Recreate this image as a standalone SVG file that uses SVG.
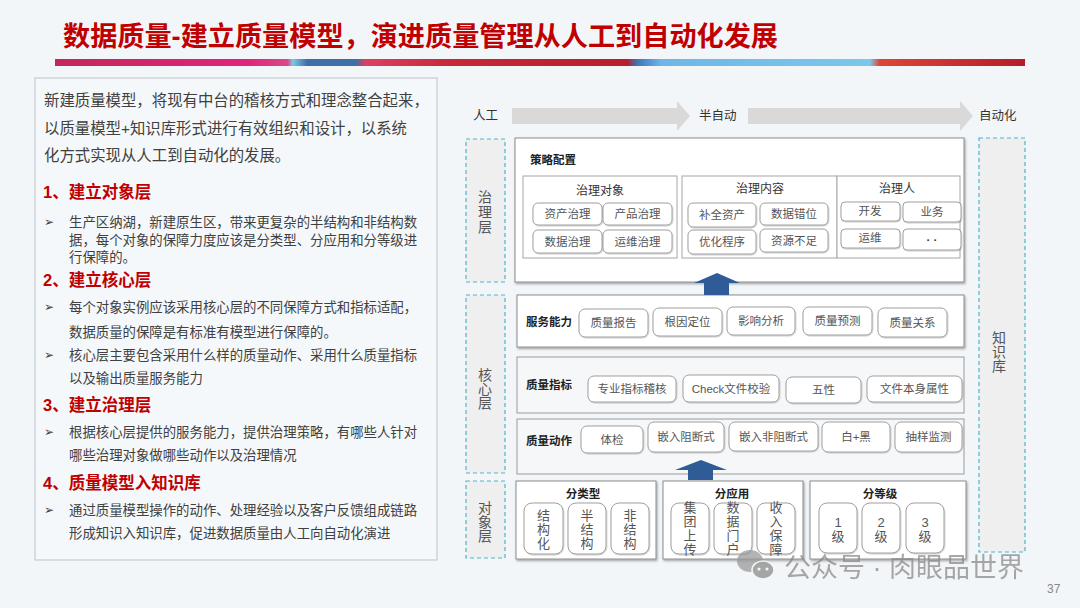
<svg xmlns="http://www.w3.org/2000/svg" width="1080" height="608" viewBox="0 0 1080 608">
<defs>
<linearGradient id="band" x1="0" y1="0" x2="1" y2="0">
<stop offset="0" stop-color="#c2285a"/><stop offset="0.2" stop-color="#e0247c"/><stop offset="0.24" stop-color="#d94a86"/>
<stop offset="0.245" stop-color="#80c6e6"/><stop offset="0.26" stop-color="#3f6fa6"/><stop offset="0.31" stop-color="#3f6fa6"/>
<stop offset="0.32" stop-color="#dc3f62"/><stop offset="0.41" stop-color="#c62838"/><stop offset="0.59" stop-color="#b81e2c"/>
<stop offset="0.6" stop-color="#3f73b8"/><stop offset="0.625" stop-color="#6fb6e6"/><stop offset="0.84" stop-color="#7ac8ec"/>
<stop offset="0.85" stop-color="#dc4638"/><stop offset="1" stop-color="#b51c28"/>
</linearGradient>
<filter id="sh" x="-5%" y="-10%" width="110%" height="130%"><feDropShadow dx="1" dy="1.5" stdDeviation="1" flood-color="#000" flood-opacity="0.35"/></filter>
<filter id="ps" x="-10%" y="-10%" width="125%" height="130%"><feDropShadow dx="0.6" dy="0.8" stdDeviation="0.6" flood-color="#000" flood-opacity="0.25"/></filter>
</defs>
<style>
text{font-family:"Liberation Sans","Noto Sans CJK SC",sans-serif;}
.body{font-size:15.4px;fill:#404040;dominant-baseline:central;}
.bl{font-size:13.4px;fill:#404040;dominant-baseline:central;}
.hd{font-size:16.5px;fill:#c00000;font-weight:bold;dominant-baseline:central;}
.mk{font-family:"DejaVu Sans",sans-serif;font-size:12px;fill:#404040;dominant-baseline:central;}
.side{fill:#efefef;stroke:#4fb4cc;stroke-width:1.2;stroke-dasharray:4 3;}
.sl{font-size:14px;fill:#555;text-anchor:middle;dominant-baseline:central;}
.box{fill:#fff;stroke:#8c8c8c;stroke-width:1;filter:url(#sh);}
.gbox{fill:#f5f7f9;stroke:#9a9a9a;stroke-width:1;}
.sec{fill:#fff;stroke:#a6a6a6;stroke-width:1;}
.pill{fill:#fff;stroke:#a0a0a0;stroke-width:1;filter:url(#ps);}
.pt{font-size:11.5px;fill:#555;text-anchor:middle;dominant-baseline:central;}
.bt{font-size:11.5px;fill:#222;font-weight:bold;dominant-baseline:central;}
.st{font-size:12px;fill:#333;text-anchor:middle;dominant-baseline:central;}
.vt{font-size:13px;fill:#555;text-anchor:middle;dominant-baseline:central;}
.arr{fill:#d9d9d9;}
.up{fill:#2f5c97;}
.lab{font-size:12.5px;fill:#333;dominant-baseline:central;}
</style>
<rect width="1080" height="608" fill="#f3f6f9"/>
<g id="title">
<text x="63" y="46" textLength="715" lengthAdjust="spacingAndGlyphs" style="font-size:27px;font-weight:bold;fill:#c00000;">数据质量-建立质量模型，演进质量管理从人工到自动化发展</text>
<rect x="55" y="59" width="970" height="7" fill="url(#band)"/>
</g>
<g id="left-panel">
<rect x="35" y="78" width="402" height="482" fill="#f5f8fa" stroke="#c6cbd0" stroke-width="1.2"/>
<text class="body" x="44" y="100">新建质量模型，将现有中台的稽核方式和理念整合起来，</text>
<text class="body" x="44" y="128">以质量模型+知识库形式进行有效组织和设计，以系统</text>
<text class="body" x="44" y="155">化方式实现从人工到自动化的发展。</text>
<text class="hd" x="43" y="192">1、建立对象层</text>
<text class="mk" x="44" y="222">➢</text>
<text class="bl" x="69" y="222">生产区纳湖，新建原生区，带来更复杂的半结构和非结构数</text>
<text class="bl" x="69" y="240">据，每个对象的保障力度应该是分类型、分应用和分等级进</text>
<text class="bl" x="69" y="257">行保障的。</text>
<text class="hd" x="43" y="280">2、建立核心层</text>
<text class="mk" x="44" y="307">➢</text>
<text class="bl" x="69" y="307">每个对象实例应该采用核心层的不同保障方式和指标适配，</text>
<text class="bl" x="69" y="332">数据质量的保障是有标准有模型进行保障的。</text>
<text class="mk" x="44" y="355">➢</text>
<text class="bl" x="69" y="355">核心层主要包含采用什么样的质量动作、采用什么质量指标</text>
<text class="bl" x="69" y="378">以及输出质量服务能力</text>
<text class="hd" x="43" y="405">3、建立治理层</text>
<text class="mk" x="44" y="432">➢</text>
<text class="bl" x="69" y="432">根据核心层提供的服务能力，提供治理策略，有哪些人针对</text>
<text class="bl" x="69" y="455">哪些治理对象做哪些动作以及治理情况</text>
<text class="hd" x="43" y="483">4、质量模型入知识库</text>
<text class="mk" x="44" y="510">➢</text>
<text class="bl" x="69" y="510">通过质量模型操作的动作、处理经验以及客户反馈组成链路</text>
<text class="bl" x="69" y="533">形成知识入知识库，促进数据质量由人工向自动化演进</text>
</g>
<g id="progression">
<text class="lab" x="473" y="116">人工</text>
<polygon class="arr" points="512,108 677,108 677,101 690,116 677,131 677,124 512,124"/>
<text class="lab" x="699" y="116">半自动</text>
<polygon class="arr" points="748,108 960,108 960,101 973,116 960,131 960,124 748,124"/>
<text class="lab" x="979" y="116">自动化</text>
</g>
<g id="layer-governance"><rect class="side" x="466" y="139" width="39" height="143"/>
<text class="sl"><tspan x="485" y="197">治</tspan><tspan x="485" y="212">理</tspan><tspan x="485" y="227">层</tspan></text></g>
<g id="layer-core"><rect class="side" x="466" y="295" width="39" height="178"/>
<text class="sl"><tspan x="485" y="375">核</tspan><tspan x="485" y="389">心</tspan><tspan x="485" y="403">层</tspan></text></g>
<g id="layer-object"><rect class="side" x="466" y="481" width="39" height="77"/>
<text class="sl"><tspan x="485" y="508">对</tspan><tspan x="485" y="522">象</tspan><tspan x="485" y="536">层</tspan></text></g>
<g id="knowledge-base"><rect class="side" x="979" y="138" width="46" height="414"/>
<text class="sl"><tspan x="999" y="338">知</tspan><tspan x="999" y="352">识</tspan><tspan x="999" y="366">库</tspan></text></g>
<g id="strategy">
<rect class="box" x="515" y="138" width="449" height="144"/>
<text class="bt" x="530" y="160">策略配置</text>
<rect class="sec" x="523" y="176" width="154" height="82"/>
<rect class="sec" x="682" y="176" width="155" height="82"/>
<rect class="sec" x="837" y="176" width="123" height="82"/>
<text class="st" x="600" y="191">治理对象</text>
<text class="st" x="760" y="189">治理内容</text>
<text class="st" x="897" y="189">治理人</text>
<rect class="pill" x="533" y="203" width="69" height="22" rx="5"/><text class="pt" x="567.5" y="214">资产治理</text>
<rect class="pill" x="603" y="203" width="69" height="22" rx="5"/><text class="pt" x="637.5" y="214">产品治理</text>
<rect class="pill" x="533" y="230" width="69" height="23" rx="5"/><text class="pt" x="567.5" y="241.5">数据治理</text>
<rect class="pill" x="603" y="230" width="69" height="23" rx="5"/><text class="pt" x="637.5" y="241.5">运维治理</text>
<rect class="pill" x="688" y="203" width="68" height="24" rx="5"/><text class="pt" x="722" y="215">补全资产</text>
<rect class="pill" x="760" y="203" width="68" height="22" rx="5"/><text class="pt" x="794" y="214">数据错位</text>
<rect class="pill" x="688" y="230" width="68" height="24" rx="5"/><text class="pt" x="722" y="242">优化程序</text>
<rect class="pill" x="760" y="229" width="68" height="23" rx="5"/><text class="pt" x="794" y="240.5">资源不足</text>
<rect class="pill" x="841" y="202" width="59" height="19" rx="4"/><text class="pt" x="870" y="211">开发</text>
<rect class="pill" x="903" y="202" width="58" height="20" rx="4"/><text class="pt" x="932" y="212">业务</text>
<rect class="pill" x="841" y="229" width="59" height="19" rx="4"/><text class="pt" x="870" y="238">运维</text>
<rect class="pill" x="903" y="229" width="58" height="21" rx="4"/><text class="pt" x="932" y="240" style="font-weight:bold;fill:#333;">· ·</text>
</g>
<g id="service">
<rect class="box" x="517" y="295" width="447" height="52"/>
<text class="bt" x="526" y="322">服务能力</text>
<rect class="pill" x="579" y="309" width="69" height="28" rx="6"/><text class="pt" x="613.5" y="323">质量报告</text>
<rect class="pill" x="653" y="308" width="69" height="28" rx="6"/><text class="pt" x="687.5" y="322">根因定位</text>
<rect class="pill" x="727" y="307" width="68" height="28" rx="6"/><text class="pt" x="761" y="321">影响分析</text>
<rect class="pill" x="803" y="307" width="69" height="28" rx="6"/><text class="pt" x="837.5" y="321">质量预测</text>
<rect class="pill" x="878" y="308" width="69" height="29" rx="6"/><text class="pt" x="912.5" y="322.5">质量关系</text>
</g>
<g id="indicators">
<rect class="gbox" x="517" y="357" width="447" height="56"/>
<text class="bt" x="526" y="385">质量指标</text>
<rect class="pill" x="588" y="376" width="88" height="26" rx="6"/><text class="pt" x="632" y="389">专业指标稽核</text>
<rect class="pill" x="683" y="375" width="96" height="27" rx="6"/><text class="pt" x="731" y="388.5">Check文件校验</text>
<rect class="pill" x="786" y="377" width="75" height="26" rx="6"/><text class="pt" x="823.5" y="390">五性</text>
<rect class="pill" x="867" y="376" width="95" height="26" rx="6"/><text class="pt" x="914.5" y="389">文件本身属性</text>
</g>
<g id="actions">
<rect class="gbox" x="517" y="419" width="447" height="55"/>
<text class="bt" x="526" y="441">质量动作</text>
<rect class="pill" x="581" y="426" width="62" height="27" rx="6"/><text class="pt" x="612" y="439.5">体检</text>
<rect class="pill" x="648" y="422" width="76" height="30" rx="6"/><text class="pt" x="686" y="437">嵌入阻断式</text>
<rect class="pill" x="729" y="422" width="89" height="29" rx="6"/><text class="pt" x="773.5" y="436.5">嵌入非阻断式</text>
<rect class="pill" x="822" y="422" width="68" height="30" rx="6"/><text class="pt" x="856" y="437">白+黑</text>
<rect class="pill" x="895" y="422" width="67" height="30" rx="6"/><text class="pt" x="928.5" y="437">抽样监测</text>
</g>
<g id="by-type">
<rect class="box" x="516" y="481" width="140" height="78"/>
<text class="bt" x="583" y="494" style="text-anchor:middle">分类型</text>
<rect class="pill" x="524" y="503" width="39" height="51" rx="8"/><text class="vt"><tspan x="543.5" y="515">结</tspan><tspan x="543.5" y="529">构</tspan><tspan x="543.5" y="543">化</tspan></text>
<rect class="pill" x="568" y="503" width="38" height="51" rx="8"/><text class="vt"><tspan x="587" y="515">半</tspan><tspan x="587" y="529">结</tspan><tspan x="587" y="543">构</tspan></text>
<rect class="pill" x="611" y="503" width="38" height="51" rx="8"/><text class="vt"><tspan x="630" y="515">非</tspan><tspan x="630" y="529">结</tspan><tspan x="630" y="543">构</tspan></text>
</g>
<g id="by-application">
<rect class="box" x="663" y="481" width="140" height="78"/>
<text class="bt" x="732" y="494" style="text-anchor:middle">分应用</text>
<rect class="pill" x="671" y="503" width="38" height="51" rx="8"/><text class="vt"><tspan x="690" y="507">集</tspan><tspan x="690" y="521">团</tspan><tspan x="690" y="535">上</tspan><tspan x="690" y="549">传</tspan></text>
<rect class="pill" x="714" y="503" width="38" height="51" rx="8"/><text class="vt"><tspan x="733" y="507">数</tspan><tspan x="733" y="521">据</tspan><tspan x="733" y="535">门</tspan><tspan x="733" y="549">户</tspan></text>
<rect class="pill" x="757" y="503" width="38" height="51" rx="8"/><text class="vt"><tspan x="776" y="507">收</tspan><tspan x="776" y="521">入</tspan><tspan x="776" y="535">保</tspan><tspan x="776" y="549">障</tspan></text>
</g>
<g id="by-level">
<rect class="box" x="810" y="481" width="156" height="78"/>
<text class="bt" x="880" y="494" style="text-anchor:middle">分等级</text>
<rect class="pill" x="819" y="503" width="38" height="50" rx="8"/><text class="vt"><tspan x="838" y="522">1</tspan><tspan x="838" y="536">级</tspan></text>
<rect class="pill" x="862" y="503" width="38" height="50" rx="8"/><text class="vt"><tspan x="881" y="522">2</tspan><tspan x="881" y="536">级</tspan></text>
<rect class="pill" x="906" y="503" width="38" height="50" rx="8"/><text class="vt"><tspan x="925" y="522">3</tspan><tspan x="925" y="536">级</tspan></text>
</g>
<g id="connectors">
<polygon class="up" points="717,273 740,283 729,283 729,295 704,295 704,283 694,283"/>
<polygon class="up" points="701,460 727,470 713,470 713,480 688,480 688,470 675,470"/>
</g>
<g id="watermark" opacity="0.75">
<ellipse cx="750" cy="561" rx="13" ry="11" fill="#9a9a9a"/>
<ellipse cx="763" cy="570" rx="11" ry="9" fill="#8a8a8a" stroke="#f3f6f9" stroke-width="1.5"/>
<circle cx="759" cy="569" r="1.6" fill="#f3f6f9"/><circle cx="767" cy="569" r="1.6" fill="#f3f6f9"/>
<text x="784" y="577" style="font-size:27px;fill:#8a8a8a;">公众号 · 肉眼品世界</text>
</g>
<text x="1047" y="593" style="font-size:12px;fill:#888;">37</text>
</svg>
